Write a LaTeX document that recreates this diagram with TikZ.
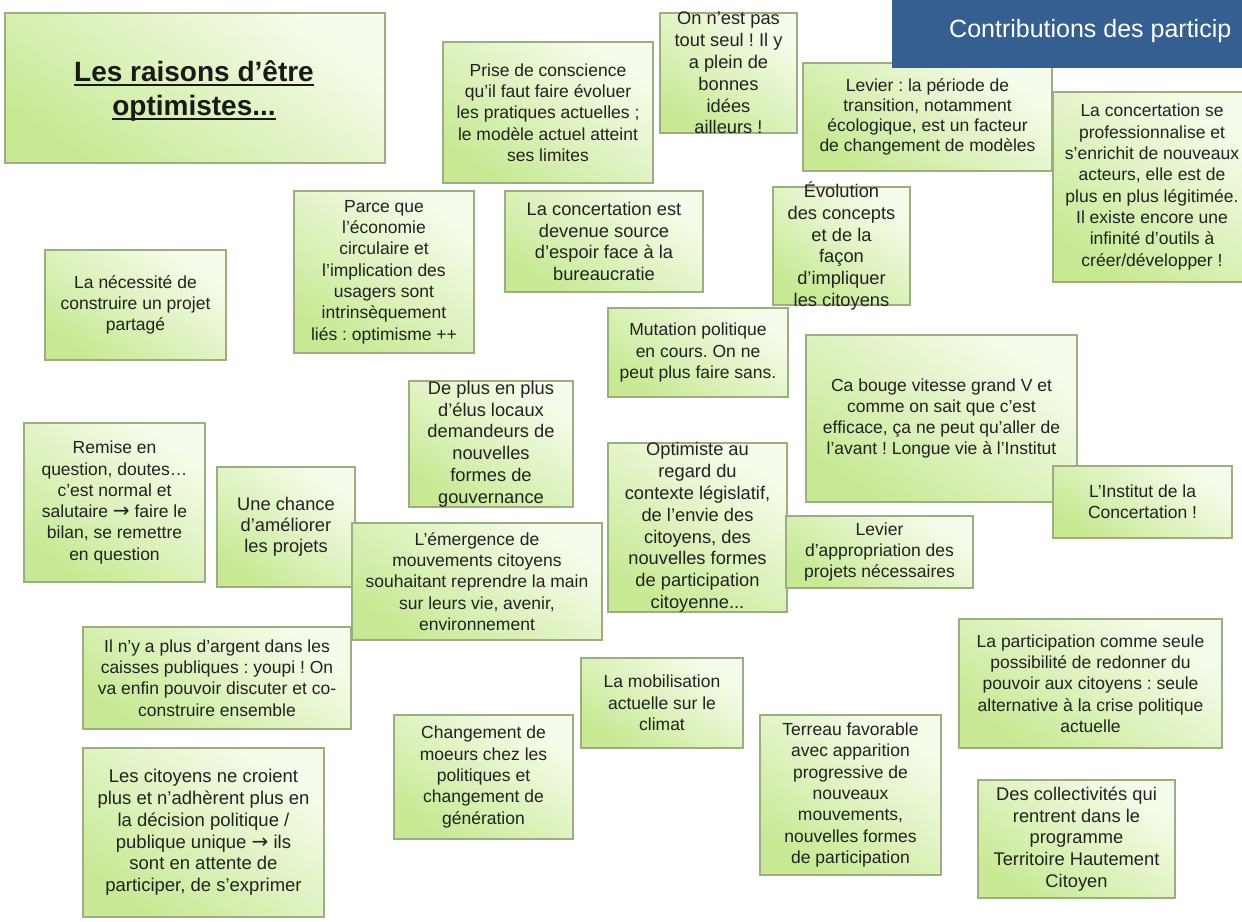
\documentclass[tikz,border=0pt]{standalone}
\usepackage{fontspec}
\setmainfont{Liberation Sans}
\newfontfamily\arrowfont{DejaVu Sans}
\newcommand\rarr{{\arrowfont\fontsize{20}{20}\selectfont →}}
\newcommand\ulx[1]{\setbox0=\hbox{#1}\rlap{\vrule width\wd0 height -2.6pt depth 4.5pt}\box0}
\definecolor{gtop}{HTML}{F6FCEC}
\definecolor{gbot}{HTML}{C8E994}
\definecolor{cardline}{HTML}{9AAE80}
\definecolor{txtcol}{HTML}{222222}
\definecolor{bannerblue}{HTML}{365F91}
\tikzset{
  card/.style={draw=cardline, line width=1.3pt, top color=gtop, bottom color=gbot,
    shading angle=-35, inner sep=0pt, outer sep=0pt},
  txt/.style={align=center, inner sep=0pt, text=txtcol, font=\fontsize{17.5}{21.3}\selectfont},
  txtb/.style={align=center, inner sep=0pt, text=txtcol, font=\fontsize{18.3}{21.8}\selectfont},
  banner/.style={fill=bannerblue, draw=none, inner sep=0pt, outer sep=0pt},
}
\begin{document}
\frenchspacing
\begin{tikzpicture}[x=1pt,y=-1pt]
\useasboundingbox (0,0) rectangle (1242,921);
\clip (0,0) rectangle (1242,921);
\fill[white] (0,0) rectangle (1242,921);

% title
\node[card, minimum width=380pt, minimum height=150pt] (title) at (195,88) {};
\node[align=center, inner sep=0pt, text=black!90, font=\fontsize{28}{34}\selectfont\bfseries] (titletxt) at (194,91)
  {\ulx{Les raisons d’être}\\\ulx{optimistes...}};

% boxes
\node[card, minimum width=181pt, minimum height=110pt] (nec) at (135.5,305) {};
\node[txt] (nect) at (nec.center) {La nécessité de\\construire un projet\\partagé};

\node[card, minimum width=180pt, minimum height=162pt] (parce) at (384,272) {};
\node[txt] (parcet) at (parce.center) {Parce que\\l'économie\\circulaire et\\l'implication des\\usagers sont\\intrinsèquement\\liés : optimisme ++};

\node[card, minimum width=210pt, minimum height=141pt] (prise) at (548,112.5) {};
\node[txt] (priset) at (prise.center) {Prise de conscience\\qu'il faut faire évoluer\\les pratiques actuelles ;\\le modèle actuel atteint\\ses limites};

\node[card, minimum width=137pt, minimum height=120pt] (onnest) at (728.5,73) {};
\node[txtb] (onnestt) at (onnest.center) {On n'est pas\\tout seul ! Il y\\a plein de\\bonnes\\idées\\ailleurs !};

\node[card, minimum width=249pt, minimum height=108pt] (levierA) at (927.5,117) {};
\node[txt, font=\fontsize{17.5}{20.2}\selectfont] (levierAt) at (levierA.center) {Levier : la période de\\transition, notamment\\écologique, est un facteur\\de changement de modèles};

\node[card, minimum width=198pt, minimum height=190pt] (concse) at (1152,187) {};
\node[txt] (concset) at (concse.center) {La concertation se\\professionnalise et\\s'enrichit de nouveaux\\acteurs, elle est de\\plus en plus légitimée.\\Il existe encore une\\infinité d'outils à\\créer/développer !};

\node[card, minimum width=198pt, minimum height=101pt] (concdev) at (604,241.5) {};
\node[txtb] (concdevt) at (concdev.center) {La concertation est\\devenue source\\d'espoir face à la\\bureaucratie};

\node[card, minimum width=137pt, minimum height=118pt] (evol) at (841.5,246) {};
\node[txtb] (evolt) at (evol.center) {Évolution\\des concepts\\et de la\\façon\\d'impliquer\\les citoyens};

\node[card, minimum width=180pt, minimum height=89pt] (mutation) at (698,352.5) {};
\node[txt] (mutationt) at (mutation.center) {Mutation politique\\en cours. On ne\\peut plus faire sans.};

\node[card, minimum width=271pt, minimum height=167pt] (cabouge) at (941.5,418.5) {};
\node[txt] (caboget) at (cabouge.center) {Ca bouge vitesse grand V et\\comme on sait que c'est\\efficace, ça ne peut qu'aller de\\l'avant ! Longue vie à l'Institut};

\node[card, minimum width=179pt, minimum height=72pt] (institut) at (1142.5,502) {};
\node[txt] (institutt) at (institut.center) {L'Institut de la\\Concertation !};

\node[card, minimum width=181pt, minimum height=159pt] (remise) at (114.5,502.5) {};
\node[txt] (remiset) at (remise.center) {Remise en\\question, doutes…\\c'est normal et\\salutaire \rarr{} faire le\\bilan, se remettre\\en question};

\node[card, minimum width=138pt, minimum height=120pt] (chance) at (286,527) {};
\node[txtb, font=\fontsize{18.3}{21}\selectfont] (chancet) at (chance.center) {Une chance\\d'améliorer\\les projets};

\node[card, minimum width=164pt, minimum height=126pt] (deplus) at (491,444) {};
\node[txtb] (deplust) at (deplus.center) {De plus en plus\\d'élus locaux\\demandeurs de\\nouvelles\\formes de\\gouvernance};

\node[card, minimum width=250pt, minimum height=117pt] (emerg) at (477,581.5) {};
\node[txt] (emergt) at (emerg.center) {L'émergence de\\mouvements citoyens\\souhaitant reprendre la main\\sur leurs vie, avenir,\\environnement};

\node[card, minimum width=179pt, minimum height=169pt] (optim) at (697.5,527.5) {};
\node[txtb] (optimt) at (optim.center) {Optimiste au\\regard du\\contexte législatif,\\de l'envie des\\citoyens, des\\nouvelles formes\\de participation\\citoyenne...};

\node[card, minimum width=187pt, minimum height=72pt] (levierB) at (879.5,552) {};
\node[txt] (levierBt) at (levierB.center) {Levier\\d'appropriation des\\projets nécessaires};

\node[card, minimum width=268pt, minimum height=102pt] (ilnya) at (217,678) {};
\node[txt] (ilnyat) at (ilnya.center) {Il n'y a plus d'argent dans les\\caisses publiques : youpi ! On\\va enfin pouvoir discuter et co-\\construire ensemble};

\node[card, minimum width=241pt, minimum height=169pt] (citoy) at (203.5,832.5) {};
\node[txtb, font=\fontsize{18.5}{21.8}\selectfont] (citoyt) at (citoy.center) {Les citoyens ne croient\\plus et n'adhèrent plus en\\la décision politique /\\publique unique \rarr{} ils\\sont en attente de\\participer, de s'exprimer};

\node[card, minimum width=179pt, minimum height=124pt] (change) at (483.5,777) {};
\node[txt] (changet) at (change.center) {Changement de\\moeurs chez les\\politiques et\\changement de\\génération};

\node[card, minimum width=162pt, minimum height=90pt] (mobil) at (662,703) {};
\node[txt] (mobilt) at (mobil.center) {La mobilisation\\actuelle sur le\\climat};

\node[card, minimum width=181pt, minimum height=160pt] (terreau) at (850.5,795) {};
\node[txt] (terreaut) at (terreau.center) {Terreau favorable\\avec apparition\\progressive de\\nouveaux\\mouvements,\\nouvelles formes\\de participation};

\node[card, minimum width=263pt, minimum height=129pt] (particip) at (1090.5,683.5) {};
\node[txt] (participt) at (particip.center) {La participation comme seule\\possibilité de redonner du\\pouvoir aux citoyens : seule\\alternative à la crise politique\\actuelle};

\node[card, minimum width=197pt, minimum height=118pt] (collect) at (1076.5,839) {};
\node[txtb] (collectt) at (collect.center) {Des collectivités qui\\rentrent dans le\\programme\\Territoire Hautement\\Citoyen};

% banner
\node[banner, minimum width=360pt, minimum height=78pt] (bannerbox) at (1072,29) {};
\node[anchor=west, inner sep=0pt, text=white, font=\fontsize{25}{30}\selectfont] (bannertxt) at (949,31) {Contributions des particip};
\end{tikzpicture}
\end{document}
